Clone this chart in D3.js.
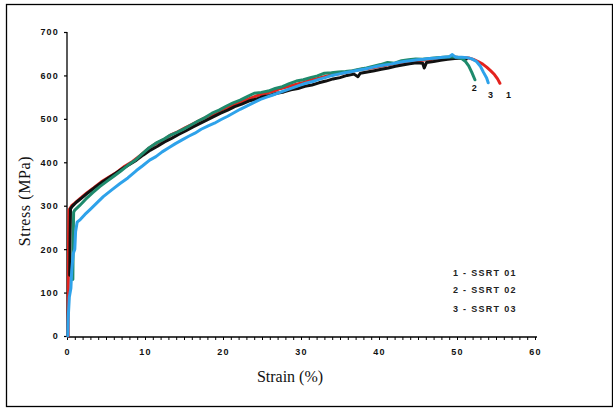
<!DOCTYPE html>
<html><head><meta charset="utf-8">
<script src="https://cdn.jsdelivr.net/npm/d3@7/dist/d3.min.js"></script>
<style>html,body{margin:0;padding:0;background:#fff;}</style>
</head><body>
<svg id="c" width="613" height="408"></svg>
<script>
// ---- data (strain %, stress MPa) ----
const xTicks = [0,10,20,30,40,50,60];
const yTicks = [0,100,200,300,400,500,600,700];
const legendLabels = ["1 - SSRT 01","2 - SSRT 02","3 - SSRT 03"];
const seriesNames = ["1","2","3","extra"];

const red = [[0.15,0],[0.15,60],[0.18,150],[0.2,230],[0.25,290],[0.6,300],[1.0,306],[1.7,317],[2.5,329],[3.4,341],[4.4,355],[5.5,367],[6.4,377],[7.4,391],[8.4,402],[9.4,416],[10.4,431],[11.4,443],[12.4,452],[13.3,463],[14.2,470],[15.2,480],[16.1,488],[17.1,497],[18.0,505],[18.9,512],[19.9,521],[20.8,528],[21.8,536],[22.7,542],[23.7,549],[24.6,555],[25.5,559],[26.5,564],[27.4,570],[28.3,574],[29.3,579],[30.2,583],[31.1,589],[32.1,593],[33.0,597],[33.9,601],[34.9,604],[35.8,607],[36.7,610],[37.7,614],[38.6,616],[39.5,619],[40.5,622],[41.4,625],[42.3,628],[43.3,630],[44.2,632],[45.1,634],[46.1,636],[47.0,638],[47.9,639],[48.9,641],[49.8,642],[50.7,641],[51.5,640],[52.1,637],[52.7,632],[53.3,626],[53.8,619],[54.3,611],[54.8,602],[55.2,592],[55.5,582]];

const black = [[0.35,140],[0.4,230],[0.45,293],[0.7,299],[1.2,308],[1.9,318],[2.7,330],[3.5,341],[4.4,353],[5.3,364],[6.2,374],[7.1,385],[8.0,395],[8.9,405],[9.8,417],[10.7,428],[11.6,437],[12.5,447],[13.4,455],[14.3,464],[15.2,472],[16.1,481],[17.0,489],[17.9,497],[18.8,505],[19.7,513],[20.6,520],[21.5,528],[22.4,534],[23.3,541],[24.2,545],[25.1,551],[26.0,554],[26.9,559],[27.8,562],[28.7,567],[29.6,570],[30.5,575],[31.4,578],[32.3,583],[33.2,587],[34.1,592],[35.0,595],[35.9,600],[36.8,603],[37.3,597],[37.6,605],[38.5,608],[39.4,611],[40.3,614],[41.2,617],[42.1,621],[43.0,624],[43.9,627],[44.8,629],[45.6,628],[45.8,617],[46.1,630],[47.0,632],[47.9,635],[48.8,637],[49.7,639],[50.6,640],[51.2,638]];

const teal = [[0.75,130],[0.8,230],[0.85,285],[1.0,290],[1.6,300],[2.4,315],[3.3,330],[4.2,344],[5.1,356],[6.0,368],[6.9,380],[7.8,393],[8.7,404],[9.6,419],[10.5,433],[11.4,444],[12.3,452],[13.2,462],[14.1,469],[15.0,477],[15.9,486],[16.8,495],[17.7,503],[18.6,513],[19.5,520],[20.4,529],[21.3,537],[22.2,543],[23.1,551],[24.0,559],[24.9,561],[25.8,564],[26.7,570],[27.6,574],[28.5,581],[29.4,587],[30.3,590],[31.2,595],[32.1,599],[33.0,605],[33.9,606],[34.8,608],[35.7,609],[36.6,611],[37.5,614],[38.4,617],[39.3,621],[40.2,625],[41.1,630],[42.0,628],[42.9,634],[43.8,636],[44.7,638],[45.6,637],[46.5,639],[47.4,641],[48.3,642],[49.2,643],[50.0,642],[50.6,639],[51.1,632],[51.5,622],[51.9,607],[52.3,590]];

const blue = [[0.1,0],[0.15,40],[0.3,90],[0.5,110],[0.6,150],[0.8,190],[1.0,200],[1.1,240],[1.3,262],[1.7,268],[2.3,280],[2.95,291],[3.8,306],[4.65,321],[5.7,336],[6.8,351],[7.8,364],[8.9,381],[9.7,392],[10.6,405],[11.4,413],[12.2,424],[13.1,434],[13.9,443],[14.7,451],[15.6,460],[16.4,467],[17.2,476],[18.1,484],[18.9,490],[19.7,498],[20.6,506],[21.4,514],[22.2,522],[23.1,530],[24.0,538],[24.8,545],[25.6,550],[26.4,555],[27.3,561],[28.1,566],[29.0,572],[29.8,577],[30.6,582],[31.5,586],[32.3,591],[33.1,595],[34.0,600],[34.8,603],[35.6,606],[36.5,609],[37.3,612],[38.2,615],[39.0,618],[39.8,621],[40.7,624],[41.5,626],[42.3,629],[43.2,632],[44.0,634],[44.9,636],[45.7,637],[46.5,639],[47.4,640],[48.2,642],[49.0,643],[49.4,648],[49.8,642],[50.6,642],[51.3,641],[51.9,638],[52.5,632],[53.0,621],[53.4,607],[53.8,594],[54.0,583]];

const W = 613, H = 408;
const svg = d3.select("#c");
svg.append("rect").attr("x",6.5).attr("y",4.5).attr("width",606).attr("height",402)
  .attr("fill","none").attr("stroke","#000").attr("stroke-width",1.3);

const x = d3.scaleLinear().domain([0,60]).range([67,535]);
const y = d3.scaleLinear().domain([0,700]).range([336,32]);

// Y axis
const yAxis = d3.axisLeft(y).tickValues(yTicks).tickSize(3).tickFormat(d3.format("d"));
const gy = svg.append("g").attr("transform","translate(67,0)").call(yAxis);
gy.select(".domain").attr("stroke","#000").attr("stroke-width",1.3).attr("d","M0,32V336");
gy.selectAll(".tick line").attr("stroke","#000").attr("stroke-width",1.2);
gy.selectAll(".tick text").attr("x",-8).attr("font-family","Arial, Liberation Sans, sans-serif")
  .attr("font-size",9).attr("font-weight","bold").attr("letter-spacing",1.2).attr("fill","#111");

// X axis
const xAxis = d3.axisBottom(x).tickValues(xTicks).tickSize(0).tickFormat(d3.format("d"));
const gx = svg.append("g").attr("transform","translate(0,337)").call(xAxis);
gx.select(".domain").attr("stroke","#000").attr("stroke-width",1.3).attr("d","M67,0H537");
gx.selectAll(".tick text").attr("y",12).attr("font-family","Arial, Liberation Sans, sans-serif")
  .attr("font-size",9).attr("font-weight","bold").attr("letter-spacing",1.2).attr("fill","#111");
const minor = d3.range(0,61,1);
const xMinor = d3.axisBottom(x).tickValues(minor).tickSize(3).tickFormat("");
const gm = svg.append("g").attr("transform","translate(0,337)").call(xMinor);
gm.select(".domain").remove();
gm.selectAll(".tick line").attr("stroke","#000").attr("stroke-width",1);

// axis titles
svg.append("text").attr("transform","translate(30,201) rotate(-90)").attr("text-anchor","middle")
  .attr("font-family","Liberation Serif, Times New Roman, serif").attr("font-size",16)
  .attr("letter-spacing",0.6).attr("fill","#111").text("Stress  (MPa)");
svg.append("text").attr("x",290).attr("y",382).attr("text-anchor","middle")
  .attr("font-family","Liberation Serif, Times New Roman, serif").attr("font-size",16)
  .attr("fill","#111").text("Strain (%)");

// curves
const line = d3.line().x(d=>x(d[0])).y(d=>y(d[1]));
const curves = [
  {data:red, color:"#e3231e"},
  {data:black, color:"#111111"},
  {data:teal, color:"#1e8a6c"},
  {data:blue, color:"#2ea2ea"}
];
svg.selectAll("path.curve").data(curves).enter().append("path").attr("class","curve")
  .attr("d",d=>line(d.data)).attr("fill","none").attr("stroke",d=>d.color)
  .attr("stroke-width",3).attr("stroke-linejoin","round").attr("stroke-linecap","round");

// curve labels
const endLabels = [{t:"2", s:52.2, v:565},{t:"3", s:54.3, v:548},{t:"1", s:56.6, v:548}];
svg.selectAll("text.endlab").data(endLabels).enter().append("text").attr("class","endlab")
  .attr("x",d=>x(d.s)).attr("y",d=>y(d.v)).attr("text-anchor","middle")
  .attr("font-family","Arial, Liberation Sans, sans-serif").attr("font-size",9).attr("font-weight","bold")
  .attr("fill","#111").text(d=>d.t);

// legend
svg.selectAll("text.leg").data(legendLabels).enter().append("text").attr("class","leg")
  .attr("x",453).attr("y",(d,i)=>[276,293,312][i])
  .attr("font-family","Arial, Liberation Sans, sans-serif").attr("font-size",9).attr("font-weight","bold")
  .attr("letter-spacing",1.3).attr("fill","#222").text(d=>d);
</script>
</body></html>
